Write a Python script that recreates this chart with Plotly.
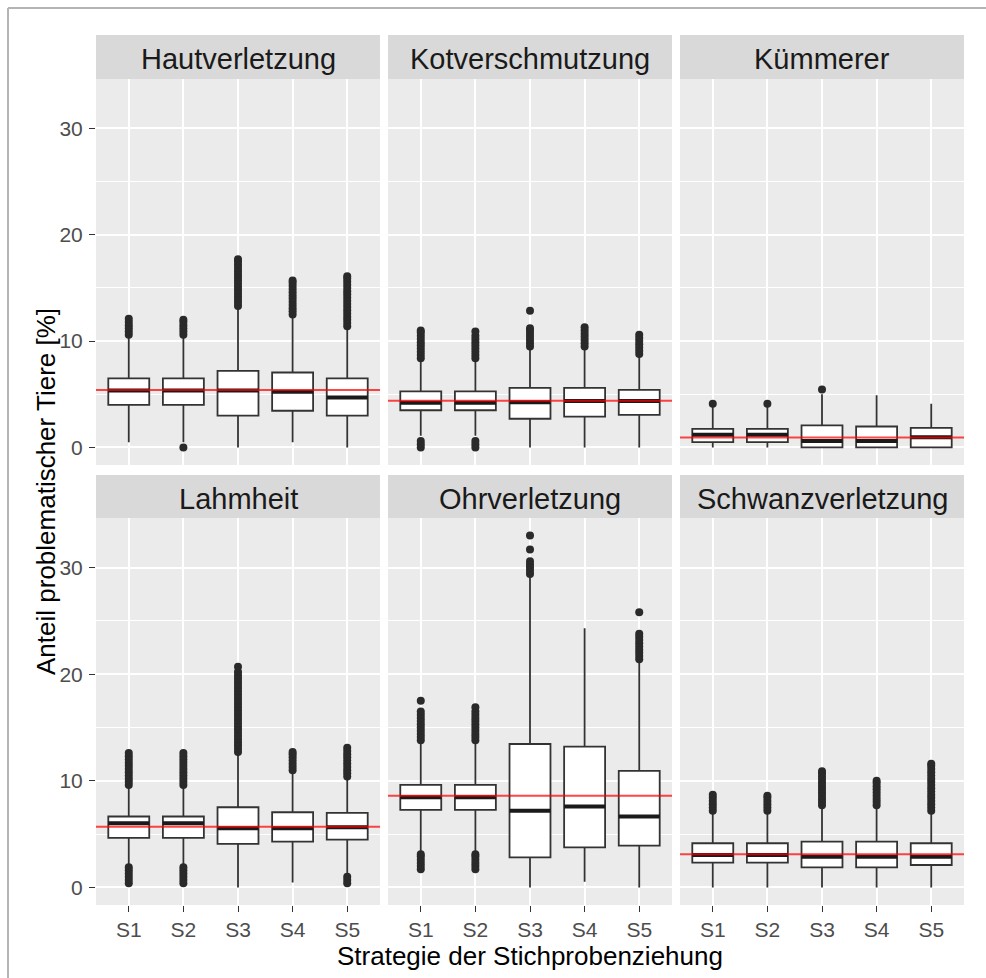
import plotly.graph_objects as go

# ---------------- data ----------------
facets = ["Hautverletzung", "Kotverschmutzung", "Kümmerer",
          "Lahmheit", "Ohrverletzung", "Schwanzverletzung"]
strategies = ["S1", "S2", "S3", "S4", "S5"]
y_ticks = [0, 10, 20, 30]
x_title = "Strategie der Stichprobenziehung"
y_title = "Anteil problematischer Tiere [%]"

# Hautverletzung
haut_q1 = [4.0, 4.0, 3.0, 3.45, 3.0]
haut_med = [5.35, 5.35, 5.35, 5.25, 4.7]
haut_q3 = [6.5, 6.5, 7.2, 7.05, 6.5]
haut_lo = [0.5, 0.5, 0.0, 0.5, 0.0]
haut_hi = [10.5, 10.5, 13.2, 12.4, 11.3]
haut_ref = 5.4
haut_out = [
    [10.6, 10.9, 11.2, 11.5, 11.8, 12.1],
    [0.0, 10.6, 10.9, 11.2, 11.5, 11.8, 12.0],
    [13.3, 13.6, 13.9, 14.2, 14.5, 14.8, 15.1, 15.4, 15.7, 16.0, 16.3, 16.6, 16.9, 17.2, 17.5, 17.7],
    [12.5, 12.8, 13.1, 13.4, 13.7, 14.0, 14.3, 14.6, 14.9, 15.2, 15.5, 15.7],
    [11.4, 11.7, 12.0, 12.3, 12.6, 12.9, 13.2, 13.5, 13.8, 14.1, 14.4, 14.7, 15.0, 15.3, 15.6, 15.9, 16.1],
]

# Kotverschmutzung
kot_q1 = [3.5, 3.5, 2.7, 2.9, 3.07]
kot_med = [4.2, 4.2, 4.26, 4.36, 4.36]
kot_q3 = [5.27, 5.27, 5.6, 5.6, 5.42]
kot_lo = [1.1, 1.1, 0.0, 0.0, 0.0]
kot_hi = [8.2, 8.2, 9.3, 9.3, 8.6]
kot_ref = 4.4
kot_out = [
    [0.0, 0.3, 0.6, 8.4, 8.7, 9.0, 9.3, 9.6, 9.9, 10.2, 10.5, 10.8, 11.0],
    [0.0, 0.3, 0.6, 8.4, 8.7, 9.0, 9.3, 9.6, 9.9, 10.2, 10.5, 10.9],
    [9.5, 9.8, 10.1, 10.4, 10.7, 11.0, 11.2, 12.85],
    [9.5, 9.8, 10.1, 10.4, 10.7, 11.0, 11.3],
    [8.8, 9.1, 9.4, 9.7, 10.0, 10.3, 10.6],
]

# Kümmerer
kuem_q1 = [0.5, 0.5, 0.0, 0.0, 0.0]
kuem_med = [1.19, 1.19, 0.6, 0.6, 0.97]
kuem_q3 = [1.75, 1.75, 2.07, 1.97, 1.85]
kuem_lo = [0.0, 0.0, 0.0, 0.0, 0.0]
kuem_hi = [3.8, 3.8, 5.0, 4.9, 4.1]
kuem_ref = 0.94
kuem_out = [[4.1], [4.1], [5.45], [], []]

# Lahmheit
lahm_q1 = [4.64, 4.64, 4.08, 4.3, 4.48]
lahm_med = [6.02, 6.02, 5.55, 5.55, 5.64]
lahm_q3 = [6.65, 6.65, 7.52, 7.05, 6.99]
lahm_lo = [2.04, 2.04, 0.0, 0.47, 1.25]
lahm_hi = [9.4, 9.4, 12.5, 10.8, 10.2]
lahm_ref = 5.7
lahm_out = [
    [0.4, 0.7, 1.0, 1.3, 1.6, 1.9, 9.6, 9.9, 10.2, 10.5, 10.8, 11.1, 11.4, 11.7, 12.0, 12.3, 12.6],
    [0.4, 0.7, 1.0, 1.3, 1.6, 1.9, 9.6, 9.9, 10.2, 10.5, 10.8, 11.1, 11.4, 11.7, 12.0, 12.3, 12.6],
    [12.7, 13.0, 13.3, 13.6, 13.9, 14.2, 14.5, 14.8, 15.1, 15.4, 15.7, 16.0, 16.3, 16.6, 16.9,
     17.2, 17.5, 17.8, 18.1, 18.4, 18.7, 19.0, 19.3, 19.6, 19.9, 20.2, 20.7],
    [11.0, 11.3, 11.6, 11.9, 12.2, 12.5, 12.7],
    [0.4, 0.7, 1.0, 10.4, 10.7, 11.0, 11.3, 11.6, 11.9, 12.2, 12.5, 12.8, 13.1],
]

# Ohrverletzung
ohr_q1 = [7.27, 7.27, 2.82, 3.76, 3.92]
ohr_med = [8.46, 8.46, 7.2, 7.59, 6.65]
ohr_q3 = [9.62, 9.62, 13.45, 13.2, 10.94]
ohr_lo = [3.35, 3.35, 0.0, 0.53, 0.0]
ohr_hi = [13.5, 13.5, 29.2, 24.3, 21.2]
ohr_ref = 8.6
ohr_out = [
    [1.7, 2.0, 2.3, 2.6, 2.9, 3.1, 13.8, 14.1, 14.4, 14.7, 15.0, 15.3, 15.6, 15.9, 16.2, 16.5, 17.5],
    [1.7, 2.0, 2.3, 2.6, 2.9, 3.1, 13.8, 14.1, 14.4, 14.7, 15.0, 15.3, 15.6, 15.9, 16.2, 16.5, 16.9],
    [29.4, 29.7, 30.0, 30.3, 30.6, 31.7, 33.0],
    [],
    [21.4, 21.7, 22.0, 22.3, 22.6, 22.9, 23.2, 23.5, 23.8, 25.8],
]

# Schwanzverletzung
schw_q1 = [2.32, 2.32, 1.88, 1.88, 2.1]
schw_med = [3.04, 3.04, 2.88, 2.88, 2.88]
schw_q3 = [4.14, 4.14, 4.29, 4.29, 4.14]
schw_lo = [0.0, 0.0, 0.0, 0.0, 0.0]
schw_hi = [6.96, 6.96, 7.43, 7.43, 6.96]
schw_ref = 3.1
schw_out = [
    [7.2, 7.5, 7.8, 8.1, 8.4, 8.7],
    [7.2, 7.5, 7.8, 8.1, 8.4, 8.6],
    [7.7, 8.0, 8.3, 8.6, 8.9, 9.2, 9.5, 9.8, 10.1, 10.4, 10.7, 10.9],
    [7.7, 8.0, 8.3, 8.6, 8.9, 9.2, 9.5, 9.8, 10.0],
    [7.2, 7.5, 7.8, 8.1, 8.4, 8.7, 9.0, 9.3, 9.6, 9.9, 10.2, 10.5, 10.8, 11.1, 11.4, 11.6],
]

panels = [
    (haut_q1, haut_med, haut_q3, haut_lo, haut_hi, haut_ref, haut_out),
    (kot_q1, kot_med, kot_q3, kot_lo, kot_hi, kot_ref, kot_out),
    (kuem_q1, kuem_med, kuem_q3, kuem_lo, kuem_hi, kuem_ref, kuem_out),
    (lahm_q1, lahm_med, lahm_q3, lahm_lo, lahm_hi, lahm_ref, lahm_out),
    (ohr_q1, ohr_med, ohr_q3, ohr_lo, ohr_hi, ohr_ref, ohr_out),
    (schw_q1, schw_med, schw_q3, schw_lo, schw_hi, schw_ref, schw_out),
]

# ---------------- layout geometry (pixels) ----------------
W, H = 986, 978
cols_px = [(96, 380), (388, 672), (680, 964)]
rows_px = [(79, 465), (518, 905)]
strips_px = [(35, 79), (475, 518)]


def fx(p):
    return p / W


def fy(p):
    return 1 - p / H


FONT = "Liberation Sans, Arial, sans-serif"
BOX_COL = "#333333"

fig = go.Figure()
layout = dict(
    width=W, height=H,
    margin=dict(l=0, r=0, t=0, b=0, pad=0),
    paper_bgcolor="white",
    plot_bgcolor="#EBEBEB",
    showlegend=False,
    boxgap=0.25, boxgroupgap=0,
    boxmode="overlay",
    font=dict(family=FONT),
)
shapes = []
annotations = []

for i, (q1, med, q3, lo, hi, ref, outs) in enumerate(panels):
    r, c = divmod(i, 3)
    n = "" if i == 0 else str(i + 1)
    xa, ya = "x" + n, "y" + n
    bottom = r == 1
    left = c == 0
    layout["xaxis" + n] = dict(
        domain=[fx(cols_px[c][0]), fx(cols_px[c][1])],
        anchor=ya, type="category",
        categoryorder="array", categoryarray=strategies,
        range=[-0.6, 4.6],
        showgrid=True, gridcolor="white", gridwidth=1.6,
        zeroline=False, showline=False,
        showticklabels=bottom, ticks="outside" if bottom else "",
        ticklen=6, tickwidth=1.3, tickcolor="#333333",
        tickfont=dict(size=21, color="#4D4D4D", family=FONT),
        fixedrange=True,
    )
    layout["yaxis" + n] = dict(
        domain=[fy(rows_px[r][1]), fy(rows_px[r][0])],
        anchor=xa, range=[-1.65, 34.65],
        tickmode="array", tickvals=y_ticks,
        showgrid=True, gridcolor="white", gridwidth=1.6,
        minor=dict(tickmode="array", tickvals=[5, 15, 25], showgrid=True,
                   gridcolor="white", gridwidth=0.8, ticks=""),
        zeroline=False, showline=False,
        showticklabels=left, ticks="outside" if left else "",
        ticklen=6, tickwidth=1.3, tickcolor="#333333",
        tickfont=dict(size=21, color="#4D4D4D", family=FONT),
        ticklabelstandoff=2,
        fixedrange=True,
    )

    # boxes (precomputed statistics)
    fig.add_trace(go.Box(
        x=strategies, q1=q1, median=med, q3=q3, lowerfence=lo, upperfence=hi,
        boxpoints=False, whiskerwidth=0, fillcolor="white",
        line=dict(color=BOX_COL, width=1.8),
        xaxis=xa, yaxis=ya, hoverinfo="skip",
    ))
    # thicker median bar
    fig.add_trace(go.Box(
        x=strategies, q1=med, median=med, q3=med, lowerfence=med, upperfence=med,
        boxpoints=False, whiskerwidth=0, fillcolor="rgba(0,0,0,0)",
        line=dict(color="#1A1A1A", width=4),
        xaxis=xa, yaxis=ya, hoverinfo="skip",
    ))
    # outliers
    ox, oy = [], []
    for s, vals in zip(strategies, outs):
        ox += [s] * len(vals)
        oy += vals
    fig.add_trace(go.Scatter(
        x=ox, y=oy, mode="markers",
        marker=dict(size=8, color="#2A2A2A", line=dict(width=0)),
        xaxis=xa, yaxis=ya, hoverinfo="skip",
    ))
    # red reference line
    shapes.append(dict(
        type="line", xref=xa + " domain", x0=0, x1=1, yref=ya, y0=ref, y1=ref,
        line=dict(color="rgba(255,0,0,0.72)", width=2), layer="above",
    ))
    # strip
    s0, s1 = strips_px[r]
    shapes.append(dict(
        type="rect", xref="paper", yref="paper",
        x0=fx(cols_px[c][0]), x1=fx(cols_px[c][1]), y0=fy(s1), y1=fy(s0),
        fillcolor="#D9D9D9", line=dict(width=0), layer="below",
    ))
    annotations.append(dict(
        text=facets[i], xref="paper", yref="paper",
        x=fx((cols_px[c][0] + cols_px[c][1]) / 2), y=fy((s0 + s1) / 2 + 2),
        xanchor="center", yanchor="middle", showarrow=False,
        font=dict(size=29, color="#1A1A1A", family=FONT),
    ))

# axis titles
annotations.append(dict(
    text=x_title, xref="paper", yref="paper",
    x=fx((cols_px[0][0] + cols_px[2][1]) / 2), y=fy(956),
    xanchor="center", yanchor="middle", showarrow=False,
    font=dict(size=26, color="black", family=FONT),
))
annotations.append(dict(
    text=y_title, xref="paper", yref="paper",
    x=fx(46), y=fy((rows_px[0][0] + rows_px[1][1]) / 2),
    xanchor="center", yanchor="middle", showarrow=False, textangle=-90,
    font=dict(size=26, color="black", family=FONT),
))

# outer frame of the picture
shapes.append(dict(type="line", xref="paper", yref="paper",
                   x0=fx(8), x1=1.01, y0=fy(8), y1=fy(8),
                   line=dict(color="#B4B4B4", width=2)))
shapes.append(dict(type="line", xref="paper", yref="paper",
                   x0=fx(8), x1=fx(8), y0=fy(8), y1=-0.01,
                   line=dict(color="#B4B4B4", width=2)))

layout["shapes"] = shapes
layout["annotations"] = annotations
fig.update_layout(**layout)

fig.write_html("out.html", config={"displayModeBar": False})
